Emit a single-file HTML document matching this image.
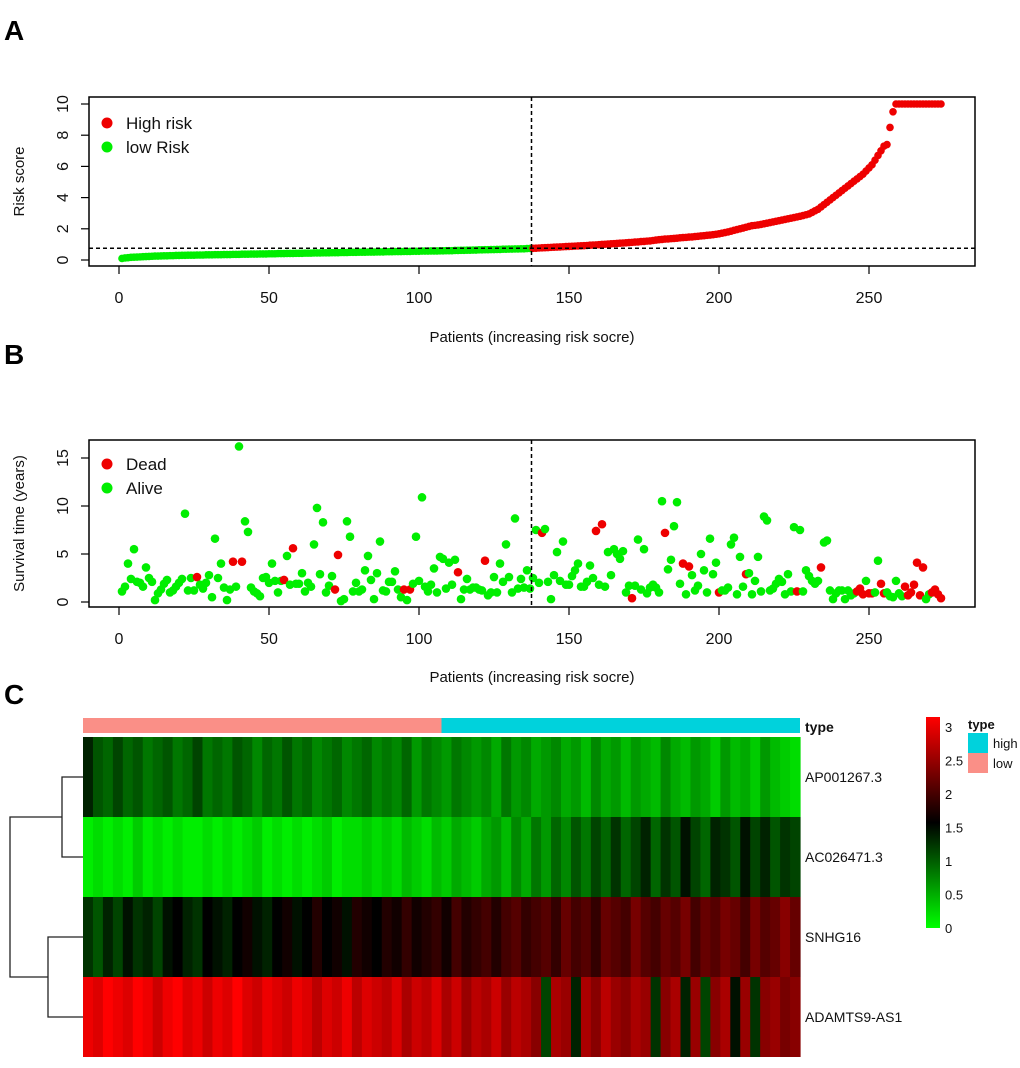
<!DOCTYPE html>
<html><head><meta charset="utf-8">
<style>
html,body{margin:0;padding:0;background:#fff;}
svg{display:block;font-family:"Liberation Sans",Arial,sans-serif;}
</style></head>
<body>
<svg id="fig" width="1020" height="1068" viewBox="0 0 1020 1068" xmlns="http://www.w3.org/2000/svg">
  <rect width="1020" height="1068" fill="#fff"/>
  <text x="4" y="40" font-size="28" font-weight="bold">A</text>
  <text x="4" y="364" font-size="28" font-weight="bold">B</text>
  <text x="4" y="704" font-size="28" font-weight="bold">C</text>
  <g id="panelA"></g>
  <g id="panelB"></g>
  <g id="panelC"></g>
</svg>
<script>
// ---------- Panel A data ----------
const riskScores = [
0.10,0.13,0.15,0.17,0.18,0.19,0.20,0.21,0.22,0.23,
0.24,0.25,0.25,0.26,0.27,0.27,0.28,0.28,0.29,0.29,
0.30,0.30,0.31,0.31,0.31,0.32,0.32,0.32,0.33,0.33,
0.33,0.34,0.34,0.34,0.35,0.35,0.35,0.36,0.36,0.36,
0.37,0.37,0.37,0.38,0.38,0.38,0.39,0.39,0.39,0.40,
0.40,0.40,0.41,0.41,0.41,0.42,0.42,0.42,0.43,0.43,
0.43,0.44,0.44,0.44,0.45,0.45,0.45,0.46,0.46,0.46,
0.47,0.47,0.47,0.48,0.48,0.48,0.49,0.49,0.49,0.50,
0.50,0.50,0.51,0.51,0.51,0.52,0.52,0.52,0.53,0.53,
0.53,0.54,0.54,0.54,0.55,0.55,0.55,0.56,0.56,0.56,
0.57,0.57,0.57,0.58,0.58,0.58,0.59,0.59,0.60,0.60,
0.60,0.61,0.61,0.62,0.62,0.63,0.63,0.64,0.64,0.65,
0.65,0.66,0.66,0.67,0.67,0.68,0.68,0.69,0.69,0.70,
0.70,0.71,0.71,0.72,0.72,0.73,0.74,
0.75,0.76,0.77,0.78,0.79,0.80,0.81,0.82,0.83,0.84,
0.85,0.86,0.87,0.88,0.89,0.90,0.91,0.92,0.93,0.95,
0.96,0.97,0.98,1.00,1.01,1.02,1.04,1.05,1.06,1.08,
1.09,1.10,1.12,1.13,1.15,1.16,1.18,1.19,1.21,1.22,
1.25,1.28,1.30,1.32,1.34,1.35,1.37,1.38,1.40,1.42,
1.44,1.45,1.47,1.48,1.50,1.52,1.54,1.56,1.58,1.60,
1.62,1.65,1.68,1.72,1.76,1.80,1.85,1.90,1.95,2.00,
2.05,2.10,2.15,2.20,2.22,2.25,2.28,2.32,2.36,2.40,
2.44,2.48,2.52,2.56,2.60,2.64,2.68,2.72,2.76,2.80,
2.85,2.90,2.95,3.05,3.15,3.25,3.40,3.55,3.70,3.85,
4.00,4.15,4.30,4.45,4.60,4.75,4.90,5.05,5.20,5.35,
5.50,5.70,5.90,6.10,6.40,6.70,7.00,7.30,7.40,8.50,
9.50,10,10,10,10,10,10,10,10,10,10,10,10,10,10,10,10];
const riskCutoff = 0.75;
const lowCount = 137;
const xTicks = [0,50,100,150,200,250];
const riskYTicks = [0,2,4,6,8,10];

// ---------- Panel B data ----------
const survTimes = [
1.1,1.6,4.0,2.4,5.5,2.1,2.0,1.6,3.6,2.5,
2.1,0.2,0.9,1.3,1.9,2.3,1.0,1.2,1.6,2.0,
2.4,9.2,1.2,2.5,1.2,2.6,1.8,1.4,2.0,2.8,
0.5,6.6,2.5,4.0,1.5,0.2,1.3,4.2,1.6,16.2,
4.2,8.4,7.3,1.5,1.1,0.9,0.6,2.5,2.6,2.0,
4.0,2.2,1.0,2.2,2.3,4.8,1.8,5.6,1.9,1.9,
3.0,1.1,2.0,1.6,6.0,9.8,2.9,8.3,1.0,1.7,
2.7,1.3,4.9,0.1,0.3,8.4,6.8,1.1,2.0,1.1,
1.3,3.3,4.8,2.3,0.3,3.0,6.3,1.2,1.1,2.1,
2.1,3.2,1.3,0.5,1.3,0.2,1.3,1.9,6.8,2.2,
10.9,1.6,1.1,1.8,3.5,1.0,4.7,4.5,1.4,4.1,
1.8,4.4,3.1,0.3,1.3,2.4,1.3,1.5,1.5,1.3,
1.2,4.3,0.7,1.0,2.6,1.0,4.0,2.1,6.0,2.6,
1.0,8.7,1.4,2.4,1.5,3.3,1.4,2.5,7.5,2.0,
7.2,7.6,2.1,0.3,2.8,5.2,2.2,6.3,1.8,1.8,
2.7,3.3,4.0,1.6,1.6,2.1,3.8,2.5,7.4,1.8,
8.1,1.6,5.2,2.8,5.5,5.0,4.5,5.3,1.0,1.7,
0.4,1.7,6.5,1.3,5.5,0.9,1.5,1.8,1.5,1.0,
10.5,7.2,3.4,4.4,7.9,10.4,1.9,4.0,0.8,3.7,
2.8,1.2,1.7,5.0,3.3,1.0,6.6,2.9,4.1,1.0,
1.2,1.2,1.5,6.0,6.7,0.8,4.7,1.6,2.9,3.0,
0.8,2.2,4.7,1.1,8.9,8.5,1.2,1.4,1.9,2.4,
2.1,0.8,2.9,1.1,7.8,1.1,7.5,1.1,3.3,2.7,
2.2,1.9,2.2,3.6,6.2,6.4,1.2,0.3,0.9,1.2,
1.2,0.3,1.2,0.7,0.9,1.1,1.4,0.8,2.2,0.9,
0.9,1.0,4.3,1.9,0.9,1.0,0.6,0.5,2.2,0.9,
0.6,1.6,0.7,1.0,1.8,4.1,0.7,3.6,0.3,0.8,
1.0,1.3,0.8,0.4];
const deadPatients = [26,38,41,55,58,72,73,95,97,113,122,141,159,161,171,182,188,190,200,209,226,234,246,247,248,250,251,254,255,262,263,264,265,266,267,268,271,272,273,274];
const survYTicks = [0,5,10,15];

// ---------- Panel C data ----------
const genes = ["AP001267.3","AC026471.3","SNHG16","ADAMTS9-AS1"];
const exprAP001267 = [1.3,1.0,0.9,1.1,0.9,1.0,0.8,0.9,1.0,0.8,0.9,1.1,0.8,0.9,0.8,1.0,0.9,0.7,0.9,0.8,1.0,0.8,0.9,0.7,0.8,0.9,0.7,0.8,0.9,0.7,0.8,0.7,0.9,0.6,0.8,0.7,0.6,0.8,0.7,0.6,0.7,0.5,0.8,0.6,0.7,0.5,0.6,0.7,0.5,0.6,0.4,0.7,0.5,0.6,0.4,0.6,0.5,0.4,0.7,0.5,0.4,0.6,0.5,0.3,0.6,0.4,0.5,0.3,0.6,0.4,0.3,0.2];
const exprAC026471 = [0.1,0.2,0.1,0.2,0.1,0.3,0.1,0.2,0.1,0.2,0.1,0.1,0.2,0.1,0.2,0.1,0.2,0.3,0.1,0.2,0.1,0.2,0.1,0.2,0.3,0.1,0.2,0.2,0.3,0.2,0.3,0.2,0.4,0.3,0.2,0.4,0.3,0.5,0.4,0.3,0.5,0.6,0.4,0.7,0.5,0.8,0.6,0.9,0.7,1.0,0.8,1.1,0.9,1.2,0.9,1.1,1.3,0.9,1.2,1.0,1.4,1.1,0.9,1.3,1.2,1.0,1.4,1.1,1.3,1.0,1.2,1.1];
const exprSNHG16 = [1.2,1.0,1.3,1.1,1.4,1.2,1.3,1.1,1.4,1.5,1.3,1.2,1.5,1.4,1.3,1.5,1.6,1.4,1.3,1.5,1.6,1.4,1.5,1.7,1.5,1.6,1.4,1.7,1.6,1.5,1.7,1.6,1.8,1.6,1.7,1.8,1.6,1.9,1.7,1.8,1.9,1.7,1.9,2.0,1.8,1.9,2.0,1.8,2.1,1.9,2.0,1.8,2.1,2.0,1.9,2.2,2.0,1.9,2.1,2.0,2.2,1.9,2.1,2.0,2.2,2.1,1.9,2.2,2.0,2.1,2.3,2.1];
const exprADAMTS9 = [2.9,2.8,3.0,2.9,2.8,3.0,2.9,2.7,2.9,3.0,2.8,2.9,2.7,2.9,2.8,3.0,2.8,2.7,2.9,2.8,2.7,2.9,2.8,2.6,2.8,2.7,2.9,2.6,2.8,2.7,2.6,2.8,2.5,2.7,2.6,2.8,2.5,2.7,2.4,2.6,2.5,2.7,2.4,2.6,2.5,2.3,1.1,2.5,2.4,1.3,2.5,2.3,2.6,2.4,2.3,2.5,2.4,1.2,2.3,2.5,1.3,2.4,1.1,2.3,2.5,1.4,2.4,1.2,2.3,2.4,2.2,2.3];
const colorbarTicks = [0,0.5,1,1.5,2,2.5,3];
const typeLowFraction = 0.5;

const NS = "http://www.w3.org/2000/svg";
function mk(parent, tag, attrs, text){
  const e = document.createElementNS(NS, tag);
  for (const k in attrs) e.setAttribute(k, attrs[k]);
  if (text !== undefined) e.textContent = text;
  parent.appendChild(e);
  return e;
}

const px0 = 119, pxStep = 3;
const xScale = i => px0 + pxStep * i;

function drawAxes(g, top, bottom, yScale, yTicks, yTitle, titleY){
  const box = mk(g, "rect", {x:89, y:top, width:886, height:bottom-top, fill:"none", stroke:"#000", "stroke-width":1.5});
  
  
  xTicks.forEach(t => {
    const x = xScale(t);
    const tk = mk(g, "line", {x1:x, x2:x, y1:bottom, y2:bottom+8, stroke:"#000", "stroke-width":1.2});
    
    
    const lb = mk(g, "text", {x:x, y:bottom+37, "font-size":16, "text-anchor":"middle", fill:"#111"}, String(t));
    
    
  });
  yTicks.forEach(t => {
    const y = yScale(t);
    const tk = mk(g, "line", {x1:81, x2:89, y1:y, y2:y, stroke:"#000", "stroke-width":1.2});
    
    
    const lb = mk(g, "text", {x:0, y:0, "font-size":16, "text-anchor":"middle", fill:"#111", transform:`translate(68,${y}) rotate(-90)`}, String(t));
    
    
  });
  const xt = mk(g, "text", {x:532, y:titleY, "font-size":15, "text-anchor":"middle", fill:"#111"}, "Patients (increasing risk socre)");
  
  
  const yt = mk(g, "text", {x:0, y:0, "font-size":15, "text-anchor":"middle", fill:"#111", transform:`translate(24,${(top+bottom)/2}) rotate(-90)`}, yTitle);
  
  
}

function legendEntry(g, x, y, color, label){
  const c = mk(g, "circle", {cx:x, cy:y, r:5.5, fill:color});
  
  
  const t = mk(g, "text", {x:x+19, y:y+6, "font-size":17, fill:"#111"}, label);
  
  
}

// ---------- Panel A ----------
(function(){
  const g = document.getElementById("panelA");
  const yA = v => 260 - 15.6 * v;
  drawAxes(g, 97, 266, yA, riskYTicks, "Risk score", 342);
  riskScores.forEach((v, k) => {
    const i = k + 1;
    const c = mk(g, "circle", {cx:xScale(i), cy:yA(v), r:3.8, fill: i <= lowCount ? "#00ee00" : "#ee0000"});
    
    
  });
  const hx = xScale(lowCount + 0.5);
  const vl = mk(g, "line", {x1:hx, x2:hx, y1:97, y2:266, stroke:"#000", "stroke-width":1.5, "stroke-dasharray":"4,3"});
  
  
  const hl = mk(g, "line", {x1:89, x2:975, y1:yA(riskCutoff), y2:yA(riskCutoff), stroke:"#000", "stroke-width":1.5, "stroke-dasharray":"4,3"});
  
  
  legendEntry(g, 107, 123, "#ee0000", "High risk");
  legendEntry(g, 107, 147, "#00ee00", "low Risk");
})();

// ---------- Panel B ----------
(function(){
  const g = document.getElementById("panelB");
  const yB = v => 602 - 9.6 * v;
  drawAxes(g, 440, 607, yB, survYTicks, "Survival time (years)", 682);
  const deadSet = new Set(deadPatients);
  survTimes.forEach((v, k) => {
    const i = k + 1;
    const c = mk(g, "circle", {cx:xScale(i), cy:yB(v), r:4.3, fill: deadSet.has(i) ? "#ee0000" : "#00ee00"});
    
    
  });
  const hx = xScale(lowCount + 0.5);
  const vl = mk(g, "line", {x1:hx, x2:hx, y1:440, y2:607, stroke:"#000", "stroke-width":1.5, "stroke-dasharray":"4,3"});
  
  
  legendEntry(g, 107, 464, "#ee0000", "Dead");
  legendEntry(g, 107, 488, "#00ee00", "Alive");
})();

// ---------- Panel C ----------
(function(){
  const g = document.getElementById("panelC");
  const rows = [exprAP001267, exprAC026471, exprSNHG16, exprADAMTS9];
  const L = 83, R = 800, W = R - L, rowTop = 737, rowH = 80;
  function col(v){
    const t = Math.max(0, Math.min(3, v)) / 3;
    let r, gg;
    if (t < 0.5){ r = 0; gg = Math.round(255 * (1 - t/0.5)); }
    else { r = Math.round(255 * (t-0.5)/0.5); gg = 0; }
    return `rgb(${r},${gg},0)`;
  }
  const split = L + W * typeLowFraction;
  const tl = mk(g, "rect", {x:L, y:718, width:split-L, height:15, fill:"#fa8f87"});
  
  
  const th = mk(g, "rect", {x:split, y:718, width:R-split, height:15, fill:"#00d2dc"});
  
  
  const tt = mk(g, "text", {x:805, y:732, "font-size":14, "font-weight":"bold", fill:"#111"}, "type");
  
  

  rows.forEach((arr, r) => {
    const n = arr.length, cw = W / n;
    arr.forEach((v, k) => {
      const c = mk(g, "rect", {x:(L + k*cw).toFixed(2), y:rowTop + r*rowH, width:(cw+0.6).toFixed(2), height:rowH, fill:col(v)});
      
      
    });
    const lb = mk(g, "text", {x:805, y:rowTop + r*rowH + rowH/2 + 5, "font-size":14, fill:"#111"}, genes[r]);
    
    
  });

  const d = mk(g, "path", {d:"M83 777 H62 V857 H83 M83 937 H48 V1017 H83 M62 817 H10 V977 H48", fill:"none", stroke:"#222", "stroke-width":1.3});
  
  

  const defs = mk(g, "defs", {});
  const lg = mk(defs, "linearGradient", {id:"cbar", x1:0, y1:1, x2:0, y2:0});
  mk(lg, "stop", {offset:"0", "stop-color":"#00ff00"});
  mk(lg, "stop", {offset:"0.5", "stop-color":"#000000"});
  mk(lg, "stop", {offset:"1", "stop-color":"#ff0000"});
  const cbTop = 717, cbBot = 928;
  const cb = mk(g, "rect", {x:926, y:cbTop, width:14, height:cbBot-cbTop, fill:"url(#cbar)"});
  
  
  colorbarTicks.forEach(t => {
    const y = cbBot - (cbBot - cbTop - 10) * t / 3;
    const lb = mk(g, "text", {x:945, y:y + 5, "font-size":13, fill:"#111"}, String(t));
    
    
  });
  const lt = mk(g, "text", {x:968, y:729, "font-size":13, "font-weight":"bold", fill:"#111"}, "type");
  
  
  const hb = mk(g, "rect", {x:968, y:733, width:20, height:20, fill:"#00d2dc"});
  
  
  const lbx = mk(g, "rect", {x:968, y:753, width:20, height:20, fill:"#fa8f87"});
  
  
  const ht = mk(g, "text", {x:993, y:748, "font-size":13, fill:"#111"}, "high");
  
  
  const lw = mk(g, "text", {x:993, y:768, "font-size":13, fill:"#111"}, "low");
  
  
})();
</script>
</body></html>
